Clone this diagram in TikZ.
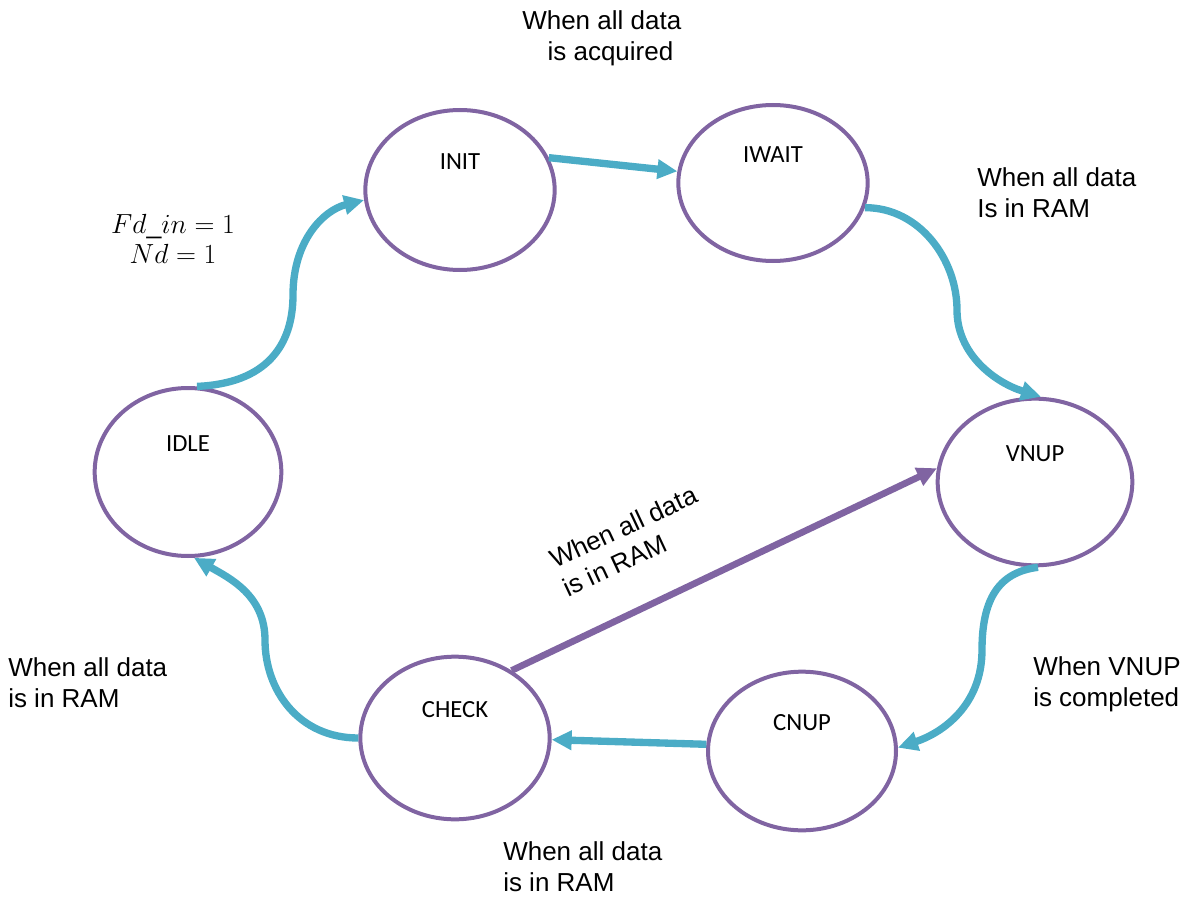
\documentclass[tikz,border=0pt]{standalone}
\usepackage{fontspec}
\setmainfont{Liberation Sans}
\newfontfamily\statefont{Carlito}
\usetikzlibrary{shapes.geometric,arrows.meta}

\definecolor{stateline}{HTML}{8064A2}
\definecolor{flowline}{HTML}{4BACC6}

\tikzset{
  state/.style={ellipse, draw=stateline, line width=3pt, fill=white,
    inner sep=0pt, minimum width=#1},
  state/.default=142pt,
  statename/.style={font=\statefont\fontsize{18.5}{22}\selectfont, yshift=21pt},
  cond/.style={font=\fontsize{19.5}{23.3}\selectfont, align=left, inner sep=0pt},
  flow/.style={draw=flowline, line width=5.5pt,
    -{Triangle[length=15pt,width=14pt]}},
  jump/.style={draw=stateline, line width=5pt,
    -{Triangle[length=15pt,width=14pt]}},
}

\begin{document}
\begin{tikzpicture}[x=0.75pt, y=-0.75pt]
  \useasboundingbox (0,0) rectangle (1190,899);

  % states
  \node[state=142pt, minimum height=120pt] (init)  at (460,190) {};
  \node[state=142pt, minimum height=117pt] (iwait) at (773,183) {};
  \node[state=146pt, minimum height=125pt] (vnup)  at (1035,482) {};
  \node[state=141pt, minimum height=119pt] (cnup)  at (802,751) {};
  \node[state=142pt, minimum height=122pt] (check) at (455,738) {};
  \node[state=140pt, minimum height=126pt] (idle)  at (188,472) {};

  \node[statename] at (init.center)  {INIT};
  \node[statename] at (iwait.center) {IWAIT};
  \node[statename] at (vnup.center)  {VNUP};
  \node[statename] at (cnup.center)  {CNUP};
  \node[statename] at (check.center) {CHECK};
  \node[statename] at (idle.center)  {IDLE};

  % transitions
  \draw[flow] (idle.84) .. controls +(70,-3) and +(0,50) .. (293,295)
                        .. controls +(0,-55) and +(-40,10) .. (init.186);
  \draw[flow] (init.20) -- (iwait.173);
  \draw[flow] (iwait.-15) .. controls +(55,0) and +(0,-50) .. (957,310)
                          .. controls +(0,45) and +(-45,-14) .. (vnup.86);
  \draw[flow] (vnup.-88) .. controls +(-40,5) and +(0,-50) .. (982,650)
                         .. controls +(0,55) and +(45,-15) .. (cnup.2);
  \draw[flow] (cnup.176) -- (check.-1);
  \draw[flow] (check.180) .. controls +(-60,0) and +(0,50) .. (265,640)
                          .. controls +(0,-45) and +(35,20) .. (idle.-86);
  \draw[jump] (check.50) -- (vnup.172);

  % transition conditions
  \node[cond, anchor=north west] (c1) at (522,10) {When all data\\\hspace*{19pt}is acquired};
  \node[cond, anchor=north west] (c2) at (977,167) {When all data\\Is in RAM};
  \node[cond, anchor=north west] (c3) at (1033,656) {When VNUP\\is completed};
  \node[cond, anchor=north west] (c4) at (503,841) {When all data\\is in RAM};
  \node[cond, anchor=north west] (c5) at (8,657) {When all data\\is in RAM};
  \node[cond, rotate=25] (c6) at (630,541) {When all data\\is in RAM};
  \node[align=center, inner sep=0pt, font=\fontsize{20}{23}\selectfont] (c7) at (173,239)
    {$Fd\_in = 1$\\$Nd = 1$};
\end{tikzpicture}
\end{document}
